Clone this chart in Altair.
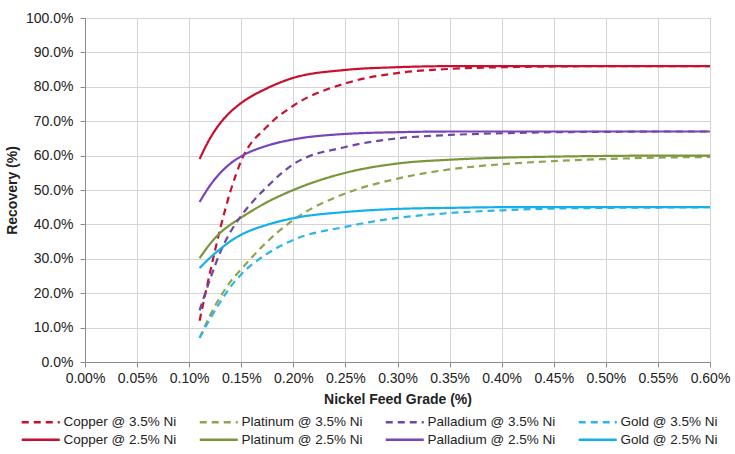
import altair as alt
import pandas as pd

grade = [0.11, 0.12, 0.13, 0.14, 0.15, 0.175, 0.20, 0.25, 0.30, 0.35, 0.40, 0.45, 0.50, 0.55, 0.60]

copper_35 = [12.0, 26.0, 39.0, 50.0, 58.5, 68.5, 74.5, 81.0, 84.0, 85.2, 85.7, 85.9, 86.0, 86.0, 86.0]
platinum_35 = [7.0, 13.5, 19.0, 23.5, 27.0, 35.0, 41.3, 49.0, 53.3, 56.0, 57.5, 58.4, 59.0, 59.4, 59.6]
palladium_35 = [15.0, 24.0, 32.0, 38.0, 42.5, 51.0, 57.5, 62.5, 65.0, 66.0, 66.5, 66.8, 66.9, 67.0, 67.0]
gold_35 = [7.0, 12.5, 17.5, 22.0, 25.5, 31.5, 35.5, 39.3, 41.9, 43.3, 44.1, 44.6, 44.8, 44.9, 45.0]
copper_25 = [59.0, 65.0, 69.5, 72.8, 75.3, 79.6, 82.6, 84.9, 85.7, 86.0, 86.0, 86.0, 86.0, 86.0, 86.0]
platinum_25 = [30.2, 34.3, 37.6, 40.0, 42.0, 46.5, 50.0, 55.0, 57.7, 58.8, 59.4, 59.7, 59.9, 60.0, 60.0]
palladium_25 = [46.5, 51.3, 55.0, 57.8, 59.8, 62.9, 64.7, 66.3, 66.8, 67.0, 67.0, 67.0, 67.0, 67.0, 67.0]
gold_25 = [27.3, 30.3, 32.9, 35.2, 37.0, 39.9, 41.8, 43.6, 44.5, 44.8, 45.0, 45.0, 45.0, 45.0, 45.0]

# legend is filled column by column: each column holds the 3.5% and 2.5% entry of one metal
series_names = [
    "Copper @ 3.5% Ni", "Copper @ 2.5% Ni",
    "Platinum @ 3.5% Ni", "Platinum @ 2.5% Ni",
    "Palladium @ 3.5% Ni", "Palladium @ 2.5% Ni",
    "Gold @ 3.5% Ni", "Gold @ 2.5% Ni",
]
series_values = [copper_35, copper_25, platinum_35, platinum_25,
                 palladium_35, palladium_25, gold_35, gold_25]
series_colors = ["#C8102E", "#C8102E", "#8FA44E", "#7A963A",
                 "#6E46A6", "#7A44B8", "#2AB6E8", "#12B0EC"]
series_dash = [[7, 5], [1, 0], [7, 5], [1, 0], [7, 5], [1, 0], [7, 5], [1, 0]]

x_ticks = [0.0, 0.05, 0.10, 0.15, 0.20, 0.25, 0.30, 0.35, 0.40, 0.45, 0.50, 0.55, 0.60]
y_ticks = [0.0, 0.1, 0.2, 0.3, 0.4, 0.5, 0.6, 0.7, 0.8, 0.9, 1.0]

rows = []
for name, vals in zip(series_names, series_values):
    for g, v in zip(grade, vals):
        rows.append({"grade": g, "recovery": v / 100.0, "series": name})
df = pd.DataFrame(rows)

FONT = "Liberation Sans"

# a flat, wide line as legend symbol (keeps legend rows compact)
legend_cfg = dict(title=None, orient="none", legendX=-65, legendY=397,
                  columns=4, columnPadding=17, rowPadding=3,
                  symbolType="M-1,0L6.6,0", symbolSize=100,
                  symbolStrokeWidth=2.5, labelFontSize=13.5,
                  labelFont=FONT, labelColor="#222222",
                  labelLimit=200, labelOffset=30)

chart = alt.Chart(df).mark_line(strokeWidth=2.2, interpolate="monotone").encode(
    x=alt.X("grade:Q",
            scale=alt.Scale(domain=[0, 0.6], nice=False, zero=False),
            axis=alt.Axis(values=x_ticks, labelExpr="format(datum.value, '.2f') + '%'",
                          title="Nickel Feed Grade (%)", titlePadding=7,
                          labelFlush=False, labelPadding=4)),
    y=alt.Y("recovery:Q",
            scale=alt.Scale(domain=[0, 1], nice=False),
            axis=alt.Axis(values=y_ticks, format=".1%", title="Recovery (%)",
                          titlePadding=6, labelPadding=7)),
    color=alt.Color("series:N",
                    scale=alt.Scale(domain=series_names, range=series_colors),
                    legend=alt.Legend(**legend_cfg)),
    strokeDash=alt.StrokeDash("series:N",
                              scale=alt.Scale(domain=series_names, range=series_dash),
                              legend=alt.Legend(**legend_cfg)),
).properties(
    width=625, height=344,
    background="white",
    autosize=alt.AutoSizeParams(type="none"),
    padding={"left": 85, "top": 18, "right": 25, "bottom": 92},
).configure_axis(
    labelFont=FONT, titleFont=FONT, labelFontSize=14, titleFontSize=14,
    labelColor="#222222", titleColor="#222222", titleFontWeight="bold",
    gridColor="#D4D4D4", gridWidth=1, domainColor="#8C8C8C", tickColor="#8C8C8C",
    tickSize=5,
).configure_view(stroke="#A0A0A0", strokeWidth=1)

chart.save("out.html", embed_options={"renderer": "svg", "actions": False})
